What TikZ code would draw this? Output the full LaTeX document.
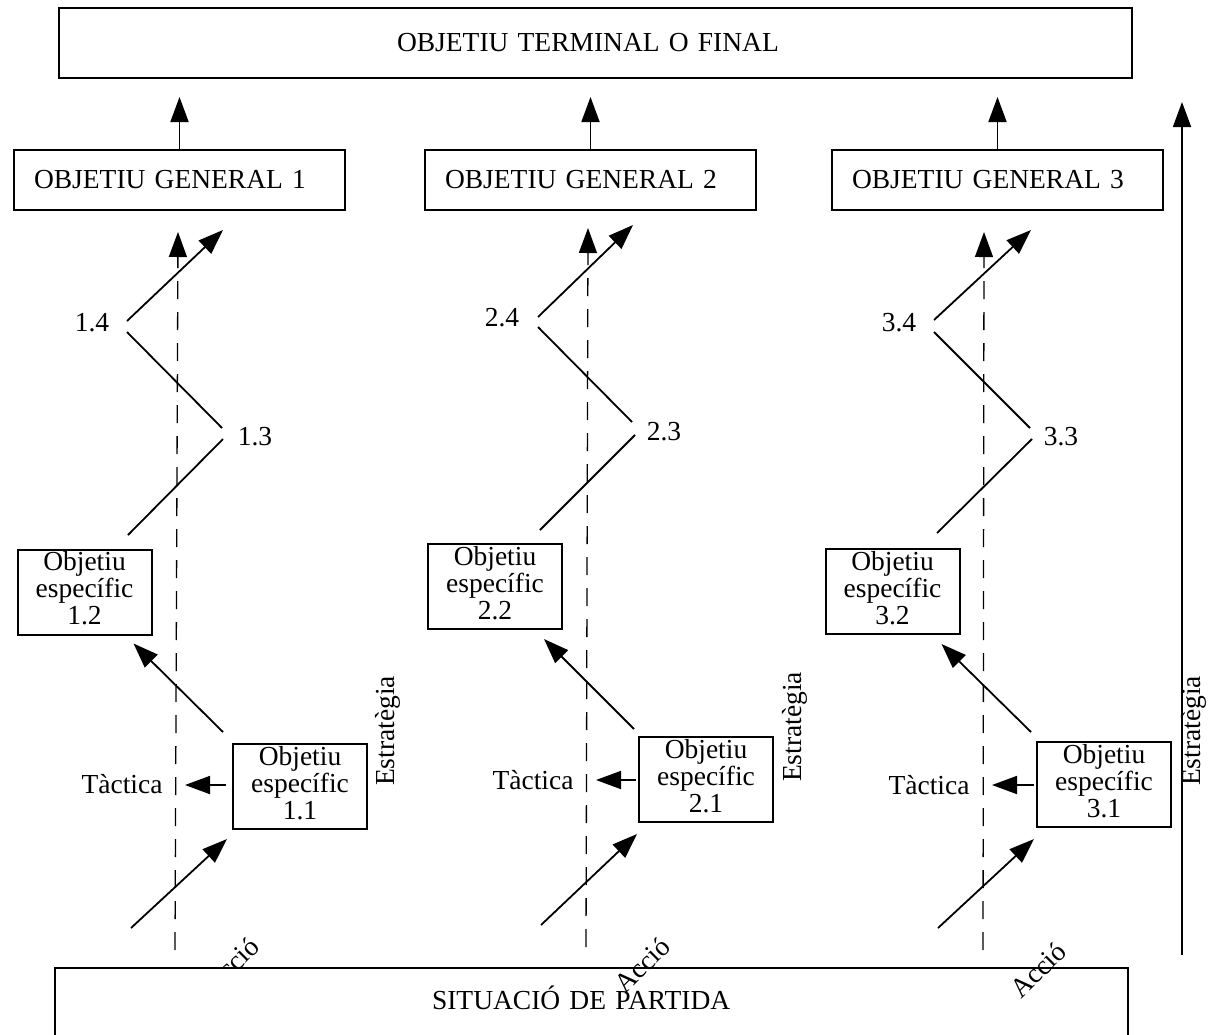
\documentclass[tikz,border=0pt]{standalone}
\usepackage{fontspec}
\setmainfont{Liberation Serif}
\usetikzlibrary{arrows.meta,calc}
\newcommand\spectext[1]{Objetiu\\específic\\#1\rule[-8pt]{0pt}{0pt}}
\begin{document}
\begin{tikzpicture}[x=1pt,y=-1pt,
  font=\fontsize{27.5}{27}\selectfont,
  every node/.style={inner sep=0pt},
  box/.style={draw, line width=2pt},
  ogbox/.style={box, anchor=west, minimum height=60pt, inner xsep=20pt, text width=291pt, align=left},
  spbox/.style={box, minimum width=134pt, minimum height=85pt, text width=134pt, align=center},
  plainline/.style={line width=1.8pt},
  arr/.style={line width=1.8pt, -{Triangle[length=25pt,width=18pt]}},
  axisline/.style={line width=1.3pt, dash pattern=on 18pt off 13pt, -{Triangle[length=25pt,width=18pt]}},
  acc/.style={rotate=45},
  estr/.style={rotate=90}
]
\useasboundingbox (0,0) rectangle (1209,1034);
\clip (0,0) rectangle (1209,1034);

% top and general objectives
\node[box, anchor=north west, minimum height=70pt, inner xsep=338pt, text width=397pt, align=left] (top) at (58,7) {OBJETIU TERMINAL O FINAL};
\node[ogbox] (og1) at (13,180) {OBJETIU GENERAL 1};
\node[ogbox] (og2) at (424,180) {OBJETIU GENERAL 2};
\node[ogbox] (og3) at (831,180) {OBJETIU GENERAL 3};
\draw[arr] (og1.north) -- ($(og1.north |- top.south)+(0,18)$);
\draw[arr] (og2.north) -- ($(og2.north |- top.south)+(0,18)$);
\draw[arr] (og3.north) -- ($(og3.north |- top.south)+(0,18)$);

% specific objective boxes
\node[spbox] (s12) at (84.5,592) {\spectext{1.2}};
\node[spbox] (s11) at (300,786.5) {\spectext{1.1}};
\node[spbox] (s22) at (495,586.5) {\spectext{2.2}};
\node[spbox] (s21) at (706,779.5) {\spectext{2.1}};
\node[spbox] (s32) at (892.5,591.5) {\spectext{3.2}};
\node[spbox] (s31) at (1104,784.5) {\spectext{3.1}};

% number labels
\node (l14) at (92,323) {1.4};
\node (l13) at (255,437) {1.3};
\node (l24) at (502,318) {2.4};
\node (l23) at (664,432) {2.3};
\node (l34) at (899,323) {3.4};
\node (l33) at (1061,437) {3.3};

% Tactica labels
\node (t1) at (122,784) {Tàctica};
\node (t2) at (533,780) {Tàctica};
\node (t3) at (929,785) {Tàctica};

% Estrategia labels
\node[estr] (e1) at (388,731) {Estratègia};
\node[estr] (e2) at (795,727) {Estratègia};
\node[estr] (e3) at (1194,731) {Estratègia};

% dashed axes
\coordinate (d1b) at (175,950); \coordinate (d1t) at (178,232);
\coordinate (d2b) at (586,947); \coordinate (d2t) at (588,228);
\coordinate (d3b) at (983,950); \coordinate (d3t) at (984,232);
\draw[axisline] (d1b) -- (d1t);
\draw[axisline] (d2b) -- (d2t);
\draw[axisline] (d3b) -- (d3t);

% zigzag column 1
\coordinate (z1a) at (128,535); \coordinate (z1b) at (223,439);
\coordinate (z1c) at (222,428); \coordinate (z1d) at (127,332);
\coordinate (z1e) at (127,321); \coordinate (z1f) at (223,230);
\draw[plainline] (z1a) -- (z1b);
\draw[plainline] (z1c) -- (z1d);
\draw[arr] (z1e) -- (z1f);
% zigzag column 2
\coordinate (z2a) at (540,530); \coordinate (z2b) at (635,435);
\coordinate (z2c) at (632,422); \coordinate (z2d) at (538,327);
\coordinate (z2e) at (538,317); \coordinate (z2f) at (633,225);
\draw[plainline] (z2a) -- (z2b);
\draw[plainline] (z2c) -- (z2d);
\draw[arr] (z2e) -- (z2f);
% zigzag column 3
\coordinate (z3a) at (937,533); \coordinate (z3b) at (1032,439);
\coordinate (z3c) at (1030,428); \coordinate (z3d) at (934,332);
\coordinate (z3e) at (934,320); \coordinate (z3f) at (1031,230);
\draw[plainline] (z3a) -- (z3b);
\draw[plainline] (z3c) -- (z3d);
\draw[arr] (z3e) -- (z3f);

% box to box arrows
\draw[arr] ($(s11.north west)+(-9,-11)$) -- ($(s12.south east)+(-19,8)$);
\draw[arr] ($(s21.north west)+(-4,-7)$) -- ($(s22.south east)+(-19,9)$);
\draw[arr] ($(s31.north west)+(-5,-9)$) -- ($(s32.south east)+(-19,9)$);

% tactica arrows
\draw[arr] ($(s11.west)+(-6,-1.5)$) -- ++(-41,0);
\draw[arr] ($(s21.west)+(-2,0.5)$) -- ++(-40,0);
\draw[arr] ($(s31.west)+(-2,0.5)$) -- ++(-42,0);

% action arrows
\coordinate (b1) at (131,928);
\coordinate (b2) at (541,925);
\coordinate (b3) at (938,928);
\draw[arr] (b1) -- ($(s11.south west)+(-5,9)$);
\draw[arr] (b2) -- ($(s21.south west)+(-1,11)$);
\draw[arr] (b3) -- ($(s31.south west)+(-2,11)$);

% strategy arrow
\coordinate (rb) at (1182,955); \coordinate (rt) at (1182,102);
\draw[arr] (rb) -- (rt);

% Accio 1 (partly hidden)
\node[acc] (a1) at (231,965) {Acció};

% starting situation
\node[box, fill=white, anchor=north west, inner xsep=377pt, inner ysep=23pt, text width=319pt, align=left, text height=18pt, text depth=40pt] (start) at (54,967) {SITUACIÓ DE PARTIDA};

\node[acc] (a2) at (642,965) {Acció};
\node[acc] (a3) at (1038,970) {Acció};
\end{tikzpicture}
\end{document}
